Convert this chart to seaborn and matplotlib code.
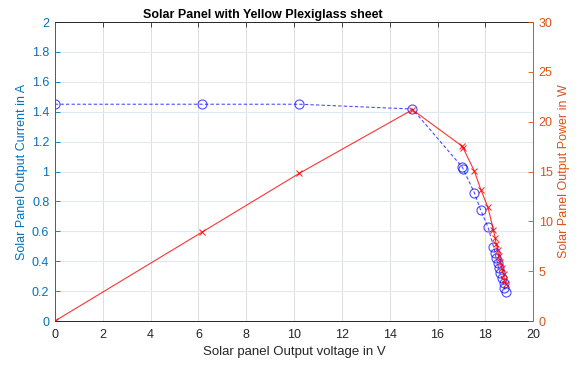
import matplotlib
matplotlib.use("Agg")
import matplotlib.pyplot as plt
import seaborn as sns
import pandas as pd

# Measured operating points of the panel under a yellow plexiglass sheet
voltage = [0.0, 6.14, 10.22, 14.95, 17.04, 17.07, 17.54, 17.81, 18.11, 18.34,
           18.41, 18.45, 18.52, 18.55, 18.62, 18.69, 18.76, 18.80, 18.87]
current = [1.45, 1.45, 1.45, 1.418, 1.028, 1.017, 0.858, 0.740, 0.629, 0.497,
           0.453, 0.419, 0.386, 0.352, 0.319, 0.286, 0.252, 0.219, 0.196]
power = [0.0, 8.90, 14.82, 21.20, 17.52, 17.36, 15.05, 13.18, 11.39, 9.11,
         8.34, 7.73, 7.15, 6.53, 5.94, 5.35, 4.73, 4.12, 3.70]

x_ticks = list(range(0, 21, 2))
left_ticks = [0, 0.2, 0.4, 0.6, 0.8, 1, 1.2, 1.4, 1.6, 1.8, 2]
left_labels = ["0", "0.2", "0.4", "0.6", "0.8", "1", "1.2", "1.4", "1.6", "1.8", "2"]
right_ticks = [0, 5, 10, 15, 20, 25, 30]

df = pd.DataFrame({"V": voltage, "I": current, "P": power})

sns.set_style("white")
plt.rcParams["font.family"] = ["Liberation Sans", "DejaVu Sans"]

BLUE_AX = "#0072BD"
ORANGE_AX = "#D95319"
DARK = "#262626"

fig = plt.figure(figsize=(5.84, 3.65), dpi=100)
ax = fig.add_axes([0.094, 0.1205, 0.819, 0.8192])
ax2 = ax.twinx()

sns.lineplot(data=df, x="V", y="I", ax=ax, sort=False, estimator=None,
             color="blue", linewidth=0.8, linestyle=(0, (3, 2)),
             marker="o", markersize=6.5, markerfacecolor="none",
             markeredgecolor="blue", markeredgewidth=0.8, alpha=0.7)
sns.lineplot(data=df, x="V", y="P", ax=ax2, sort=False, estimator=None,
             color="red", linewidth=0.8, marker="x", markersize=5,
             markeredgecolor="red", markeredgewidth=0.8, alpha=0.8)

ax.set_xlim(0, 20)
ax.set_ylim(0, 2)
ax2.set_ylim(0, 30)
ax.set_xticks(x_ticks)
ax.set_yticks(left_ticks)
ax.set_yticklabels(left_labels)
ax2.set_yticks(right_ticks)

# grid: vertical lines neutral, horizontal lines tinted by the left axis
ax.xaxis.grid(True, color="#d9d9d9", linewidth=0.6)
ax.yaxis.grid(True, color="#dde9f3", linewidth=0.8)
ax.set_axisbelow(True)

for side in ["top", "bottom"]:
    ax.spines[side].set_color(DARK)
    ax.spines[side].set_linewidth(0.7)
ax.spines["left"].set_color(BLUE_AX)
ax.spines["right"].set_visible(False)
for side in ["top", "bottom", "left"]:
    ax2.spines[side].set_visible(False)
ax2.spines["right"].set_color(ORANGE_AX)
ax2.spines["right"].set_linewidth(0.7)
ax.spines["left"].set_linewidth(0.7)

ax.tick_params(axis="x", direction="in", length=3.5, width=0.6, colors=DARK,
               labelsize=9, top=True, pad=6)
ax.tick_params(axis="y", direction="in", length=3.5, width=0.6, colors=BLUE_AX,
               labelsize=9, pad=4)
ax2.tick_params(axis="y", direction="in", length=3.5, width=0.6, colors=ORANGE_AX,
                labelsize=9, pad=4)

ax.set_xlabel("Solar panel Output voltage in V", fontsize=9.5, color=DARK, labelpad=3)
ax.set_ylabel("Solar Panel Output Current in A", fontsize=9, color=BLUE_AX, labelpad=3)
ax2.set_ylabel("Solar Panel Output Power in W", fontsize=9, color=ORANGE_AX, labelpad=4)
ax.set_title("Solar Panel with Yellow Plexiglass sheet", fontsize=9, fontweight="bold",
             color="black", pad=3, x=0.435)

fig.savefig("out.png", dpi=100)
